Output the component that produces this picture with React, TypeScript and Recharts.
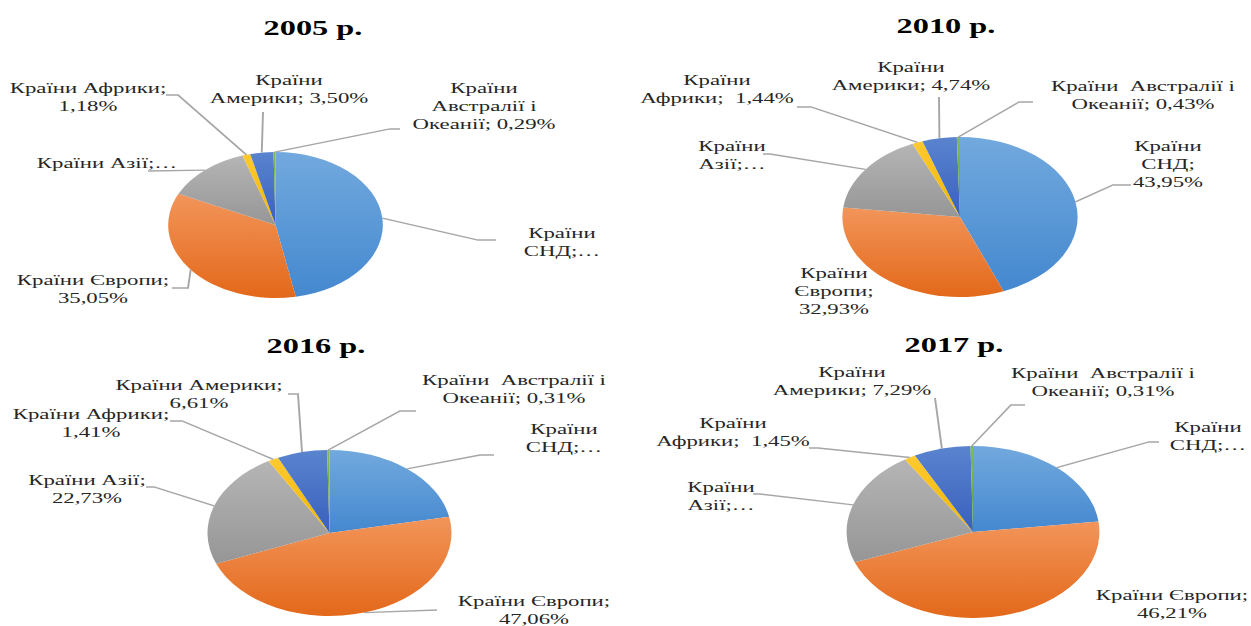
import { PieChart, Pie, Cell } from 'recharts'

const W = 1251
const H = 626
// the source picture is stretched sideways, so everything is drawn narrow and scaled in x
const SX = 1.47
const VW = W / SX

const regions = ['Країни СНД', 'Країни Європи', 'Країни Азії', 'Країни Африки', 'Країни Америки', 'Країни Австралії і Океанії']
const years = ['2005 р.', '2010 р.', '2016 р.', '2017 р.']

// shares, %, same order as regions
const share2005 = [46.98, 35.05, 13.0, 1.18, 3.5, 0.29]
const share2010 = [43.95, 32.93, 16.51, 1.44, 4.74, 0.43]
const share2016 = [21.88, 47.06, 22.73, 1.41, 6.61, 0.31]
const share2017 = [23.06, 46.21, 21.68, 1.45, 7.29, 0.31]
const shares = [share2005, share2010, share2016, share2017]

// data label text as it is broken in the picture; {v} is the value
const text2005 = [['Країни', 'СНД;…'], ['Країни Європи;', '{v}'], ['Країни Азії;…'], ['Країни Африки;', '{v}'], ['Країни', 'Америки; {v}'], ['Країни', 'Австралії і', 'Океанії; {v}']]
const text2010 = [['Країни', 'СНД;', '{v}'], ['Країни', 'Європи;', '{v}'], ['Країни', 'Азії;…'], ['Країни', 'Африки;  {v}'], ['Країни', 'Америки; {v}'], ['Країни  Австралії і', 'Океанії; {v}']]
const text2016 = [['Країни', 'СНД;…'], ['Країни Європи;', '{v}'], ['Країни Азії;', '{v}'], ['Країни Африки;', '{v}'], ['Країни Америки;', '{v}'], ['Країни  Австралії і', 'Океанії; {v}']]
const text2017 = [['Країни', 'СНД;…'], ['Країни Європи;', '{v}'], ['Країни', 'Азії;…'], ['Країни', 'Африки;  {v}'], ['Країни', 'Америки; {v}'], ['Країни  Австралії і', 'Океанії; {v}']]
const labelText = [text2005, text2010, text2016, text2017]

const colorTop = ['#72a9de', '#f2955a', '#b5b5b5', '#ffca30', '#5a84cf', '#80ba5c']
const colorBottom = ['#4488cf', '#e3681a', '#969696', '#f0b400', '#3860bd', '#5f9e3a']

type Pt = [number, number]
interface LabelPos { x: number; y: number; pts?: Pt[] }
interface Panel { cx: number; cy: number; r: number; tx: number; ty: number; labels: LabelPos[] }

// page layout in real pixels (x gets divided by SX when drawn)
const layout: Panel[] = [
  {
    cx: 275.5, cy: 225, r: 73, tx: 313, ty: 35,
    labels: [
      { x: 562, y: 233, pts: [[478, 240], [496, 240]] },
      { x: 93, y: 280, pts: [[188, 288], [172, 288]] },
      { x: 107, y: 163, pts: [[148, 171]] },
      { x: 88, y: 88, pts: [[178, 95], [166, 95]] },
      { x: 289, y: 80, pts: [[263, 112]] },
      { x: 484, y: 88, pts: [[390, 129], [400, 129]] },
    ],
  },
  {
    cx: 960, cy: 217, r: 80, tx: 946, ty: 33,
    labels: [
      { x: 1168, y: 146, pts: [[1113, 185], [1131, 185]] },
      { x: 834, y: 273 },
      { x: 732, y: 146, pts: [[770, 154], [763, 154]] },
      { x: 717, y: 80, pts: [[811, 107], [797, 107]] },
      { x: 911, y: 67, pts: [[939, 97]] },
      { x: 1143, y: 86, pts: [[1019, 102], [1033, 102]] },
    ],
  },
  {
    cx: 329.5, cy: 533, r: 83, tx: 316, ty: 353,
    labels: [
      { x: 564, y: 429, pts: [[480, 455], [494, 455]] },
      { x: 534, y: 601, pts: [[437, 610]] },
      { x: 87, y: 480, pts: [[154, 487], [146, 487]] },
      { x: 91, y: 414, pts: [[182, 421], [170, 421]] },
      { x: 199, y: 385, pts: [[298, 394], [288, 394]] },
      { x: 514, y: 380, pts: [[400, 411], [416, 411]] },
    ],
  },
  {
    cx: 973, cy: 532, r: 86, tx: 954, ty: 352,
    labels: [
      { x: 1208, y: 427, pts: [[1149, 442], [1159, 442]] },
      { x: 1172, y: 595 },
      { x: 721, y: 487, pts: [[760, 494], [753, 494]] },
      { x: 733, y: 423, pts: [[818, 448], [809, 448]] },
      { x: 852, y: 372, pts: [[935, 398]] },
      { x: 1103, y: 373, pts: [[1011, 405], [1025, 405]] },
    ],
  },
]

const FONT = "'Liberation Serif', 'Times New Roman', serif"

function fmt(v: number) {
  return v.toFixed(2).replace('.', ',') + '%'
}

// eslint-disable-next-line @typescript-eslint/no-explicit-any
const renderLabel = (p: number) => (props: any) => {
  const { cx, cy, midAngle, outerRadius, index } = props
  const value = props.value ?? props.payload?.value
  const pos = layout[p].labels[index]
  const a = (-midAngle * Math.PI) / 180
  const ex = cx + outerRadius * Math.cos(a)
  const ey = cy + outerRadius * Math.sin(a)
  const lines = labelText[p][index].map(s => s.replace('{v}', fmt(value)))
  const tx = pos.x / SX
  return (
    <g key={`lbl-${p}-${index}`}>
      {pos.pts && (
        <polyline
          points={[[ex, ey], ...pos.pts.map(([x, y]) => [x / SX, y])].map(q => q.join(',')).join(' ')}
          fill="none" stroke="#a6a6a6" strokeWidth={1.3}
        />
      )}
      <text x={tx} y={pos.y + 5} textAnchor="middle" fontFamily={FONT} fontSize={15.5} fill="#262626"
        style={{ whiteSpace: 'pre' }}>
        {lines.map((s, i) => (
          <tspan key={i} x={tx} dy={i === 0 ? 0 : 18}>{s}</tspan>
        ))}
      </text>
    </g>
  )
}

export default function App() {
  return (
    <div style={{ position: 'absolute', left: 0, top: 0, width: W, height: H, overflow: 'hidden', background: '#fff' }}>
      <div style={{ position: 'relative', width: VW, height: H, transform: `scaleX(${SX})`, transformOrigin: '0 0' }}>
        {layout.map((pn, p) => (
          <div key={years[p]} style={{
            position: 'absolute', left: pn.tx / SX - 60, width: 120, top: pn.ty - 18.4,
            textAlign: 'center', fontFamily: FONT, fontWeight: 700, fontSize: 22, lineHeight: '22px', color: '#000',
          }}>
            {years[p]}
          </div>
        ))}
        <PieChart width={VW} height={H} margin={{ top: 0, right: 0, bottom: 0, left: 0 }}>
          <defs>
            {colorTop.map((c, i) => (
              <linearGradient key={i} id={`grad${i}`} x1="0" y1="0" x2="0" y2="1">
                <stop offset="0%" stopColor={c} />
                <stop offset="100%" stopColor={colorBottom[i]} />
              </linearGradient>
            ))}
          </defs>
          {layout.map((pn, p) => (
            <Pie
              key={years[p]}
              data={regions.map((name, i) => ({ name, value: shares[p][i] }))}
              dataKey="value"
              nameKey="name"
              cx={pn.cx / SX}
              cy={pn.cy}
              outerRadius={pn.r}
              startAngle={90}
              endAngle={-270}
              stroke="none"
              label={renderLabel(p)}
              labelLine={false}
              isAnimationActive={false}
            >
              {regions.map((name, i) => (
                <Cell key={name} fill={`url(#grad${i})`} />
              ))}
            </Pie>
          ))}
        </PieChart>
      </div>
    </div>
  )
}
